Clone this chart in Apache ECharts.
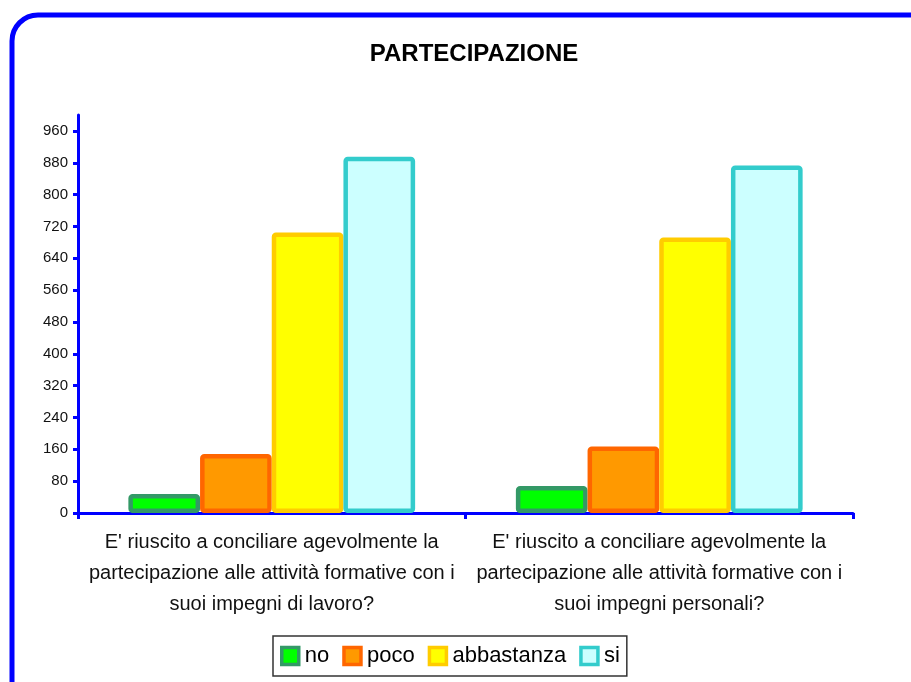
<!DOCTYPE html>
<html>
<head>
<meta charset="utf-8">
<script src="https://cdn.jsdelivr.net/npm/echarts@6/dist/echarts.min.js"></script>
<style>
  html, body { margin: 0; padding: 0; background: #fff; }
  #chart { width: 911px; height: 682px; }
</style>
</head>
<body>
<div id="chart"></div>
<script>
// domande (categorie)
const categories = [
  "E' riuscito a conciliare agevolmente la\npartecipazione alle attività formative con i\nsuoi impegni di lavoro?",
  "E' riuscito a conciliare agevolmente la\npartecipazione alle attività formative con i\nsuoi impegni personali?"
];
const seriesNames = ["no", "poco", "abbastanza", "si"];
const noValues = [48, 68];
const pocoValues = [148, 167];
const abbastanzaValues = [705, 692];
const siValues = [895, 873];
const yTicks = [0, 80, 160, 240, 320, 400, 480, 560, 640, 720, 800, 880, 960];

const fills = ["#00FF00", "#FF9900", "#FFFF00", "#CCFFFF"];
const borders = ["#339966", "#FF6600", "#FFCC00", "#33CCCC"];
const allValues = [noValues, pocoValues, abbastanzaValues, siValues];

let myChart = echarts.init(document.getElementById("chart"));
myChart.setOption({
  animation: false,
  textStyle: { fontFamily: "Liberation Sans, Arial, sans-serif" },
  title: {
    text: "PARTECIPAZIONE",
    left: 469,
    textAlign: "center",
    top: 37,
    textStyle: { fontSize: 24, fontWeight: "bold", color: "#000" }
  },
  graphic: [
    {
      type: "rect",
      shape: { x: 12, y: 15, width: 940, height: 720, r: 26 },
      style: { fill: "none", stroke: "#0000FF", lineWidth: 5 },
      silent: true
    }
  ],
  legend: {
    data: seriesNames,
    left: 273,
    top: 636,
    width: 352,
    height: 40,
    padding: [9, 7, 9, 7],
    borderColor: "#333",
    borderWidth: 1.5,
    borderRadius: 0,
    icon: "rect",
    itemWidth: 17,
    itemHeight: 17,
    itemGap: 13,
    itemStyle: { borderWidth: 3.5 },
    textStyle: { fontSize: 22, color: "#000", padding: [0, 0, 0, 1] }
  },
  grid: {
    left: 78,
    right: 58,
    top: 115,
    bottom: 169,
    containLabel: false
  },
  xAxis: {
    type: "category",
    data: categories,
    axisLine: { lineStyle: { color: "#0000FF", width: 3 } },
    axisTick: { show: true, length: 6, lineStyle: { color: "#0000FF", width: 3 } },
    axisLabel: {
      fontSize: 20,
      lineHeight: 31,
      color: "#111",
      margin: 14,
      interval: 0
    }
  },
  yAxis: {
    type: "value",
    min: 0,
    max: 1000,
    interval: 40,
    splitLine: { show: false },
    axisLine: { show: true, lineStyle: { color: "#0000FF", width: 3 } },
    axisTick: {
      show: true,
      length: 5,
      customValues: yTicks,
      lineStyle: { color: "#0000FF", width: 3 }
    },
    axisLabel: {
      customValues: yTicks,
      fontSize: 15,
      color: "#111",
      margin: 10
    }
  },
  series: seriesNames.map(function (name, i) {
    return {
      name: name,
      type: "bar",
      data: allValues[i],
      barGap: "0%",
      barCategoryGap: "26%",
      itemStyle: {
        color: fills[i],
        borderColor: borders[i],
        borderWidth: 4.5,
        borderRadius: 2
      }
    };
  })
});
</script>
</body>
</html>
